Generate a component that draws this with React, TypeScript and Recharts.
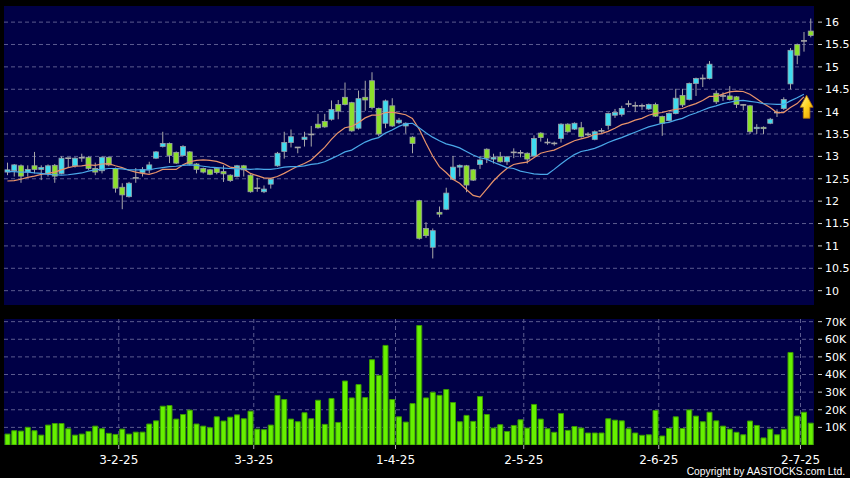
import React from 'react';
import { ComposedChart, Bar, Line, XAxis, YAxis, CartesianGrid, ReferenceDot } from 'recharts';

// ---- data ----
const opens = [
  12.65, 12.68, 12.79, 12.65, 12.79, 12.71, 12.62, 12.80, 12.62, 12.96,
  12.79, 12.97, 12.98, 12.73, 12.68, 12.98, 12.73, 12.31, 12.10, 12.52,
  12.64, 12.70, 12.96, 13.22, 13.29, 13.09, 13.02, 13.10, 12.83, 12.73,
  12.70, 12.73, 12.66, 12.58, 12.55, 12.79, 12.58, 12.29, 12.21, 12.38,
  12.79, 13.11, 13.31, 13.20, 13.38, 13.49, 13.72, 13.78, 13.83, 14.16,
  14.32, 14.20, 13.63, 14.32, 14.69, 14.07, 13.74, 14.13, 13.75, 13.68,
  13.43, 12.01, 11.39, 10.97, 11.75, 11.82, 12.49, 12.76, 12.79, 12.70,
  12.82, 13.16, 12.94, 12.99, 12.88, 13.09, 13.08, 13.07, 13.01, 13.52,
  13.31, 13.29, 13.40, 13.72, 13.61, 13.64, 13.49, 13.38, 13.57, 13.69,
  13.92, 13.94, 14.17, 14.13, 14.13, 14.06, 14.16, 13.89, 13.80, 13.96,
  14.36, 14.27, 14.63, 14.74, 14.74, 14.41, 14.35, 14.35, 14.33, 14.15,
  14.13, 13.62, 13.65, 13.74, 13.98, 14.07, 14.62, 15.50, 15.58, 15.80,
];
const highs = [
  12.86, 12.83, 12.82, 12.80, 13.10, 12.80, 12.82, 12.83, 13.00, 12.97,
  12.98, 13.06, 13.00, 12.86, 13.00, 13.00, 12.75, 12.40, 12.43, 12.74,
  12.76, 12.88, 13.12, 13.55, 13.31, 13.11, 13.25, 13.12, 12.85, 12.75,
  12.72, 12.75, 12.80, 12.60, 12.81, 12.81, 12.60, 12.52, 12.35, 12.52,
  13.10, 13.55, 13.60, 13.21, 13.55, 13.68, 13.95, 13.95, 14.25, 14.26,
  14.65, 14.22, 14.47, 14.69, 14.88, 14.09, 14.27, 14.30, 13.86, 13.76,
  13.45, 12.03, 11.53, 11.39, 11.88, 12.30, 13.01, 12.82, 12.81, 12.72,
  13.01, 13.18, 13.06, 13.10, 13.01, 13.18, 13.14, 13.09, 13.47, 13.54,
  13.40, 13.33, 13.74, 13.74, 13.76, 13.77, 13.54, 13.58, 13.63, 13.98,
  14.06, 14.13, 14.25, 14.22, 14.18, 14.18, 14.20, 13.91, 13.98, 14.51,
  14.51, 14.65, 14.76, 14.83, 15.13, 14.47, 14.43, 14.57, 14.35, 14.17,
  14.15, 13.72, 13.67, 13.86, 14.05, 14.32, 15.42, 15.52, 15.78, 16.08,
];
const lows = [
  12.58, 12.55, 12.41, 12.55, 12.62, 12.47, 12.55, 12.41, 12.60, 12.74,
  12.75, 12.88, 12.70, 12.58, 12.62, 12.78, 12.19, 11.82, 12.08, 12.41,
  12.55, 12.62, 12.94, 13.20, 12.85, 12.83, 13.00, 12.80, 12.62, 12.62,
  12.58, 12.60, 12.43, 12.43, 12.53, 12.55, 12.19, 12.21, 12.18, 12.28,
  12.77, 12.95, 13.20, 13.07, 13.22, 13.22, 13.62, 13.64, 13.80, 13.83,
  14.14, 13.55, 13.60, 14.02, 14.05, 13.45, 13.63, 13.66, 13.72, 13.51,
  13.07, 11.14, 11.18, 10.72, 11.64, 11.80, 12.47, 12.55, 12.20, 12.45,
  12.72, 12.85, 12.84, 12.86, 12.81, 12.96, 12.98, 12.84, 12.99, 13.33,
  13.26, 13.24, 13.31, 13.53, 13.59, 13.42, 13.45, 13.36, 13.53, 13.60,
  13.86, 13.89, 14.10, 14.00, 14.04, 14.04, 13.88, 13.46, 13.78, 13.94,
  14.10, 14.25, 14.35, 14.55, 14.72, 14.17, 14.24, 14.25, 14.08, 14.03,
  13.50, 13.50, 13.50, 13.72, 13.88, 14.04, 14.50, 15.06, 15.34, 15.66,
];
const closes = [
  12.70, 12.81, 12.56, 12.71, 12.71, 12.75, 12.79, 12.56, 12.96, 12.96,
  12.96, 12.97, 12.73, 12.65, 12.98, 12.81, 12.29, 12.14, 12.40, 12.52,
  12.71, 12.81, 13.10, 13.29, 13.02, 12.85, 13.22, 12.83, 12.71, 12.65,
  12.60, 12.64, 12.61, 12.46, 12.79, 12.70, 12.21, 12.29, 12.27, 12.49,
  13.07, 13.31, 13.44, 13.20, 13.43, 13.49, 13.64, 13.66, 14.05, 14.01,
  14.16, 13.57, 14.29, 14.26, 14.09, 13.50, 14.24, 13.68, 13.81, 13.74,
  13.29, 11.17, 11.23, 11.34, 11.71, 12.18, 12.76, 12.80, 12.36, 12.47,
  12.92, 12.96, 12.98, 12.88, 12.99, 13.09, 13.08, 12.94, 13.40, 13.42,
  13.31, 13.29, 13.72, 13.55, 13.74, 13.44, 13.49, 13.55, 13.57, 13.96,
  13.98, 14.07, 14.17, 14.13, 14.13, 14.16, 13.90, 13.74, 13.96, 14.30,
  14.15, 14.63, 14.74, 14.74, 15.06, 14.22, 14.35, 14.27, 14.16, 14.15,
  13.55, 13.65, 13.62, 13.83, 13.98, 14.27, 15.37, 15.26, 15.58, 15.70,
];
const volumesK = [
  6.2, 8.1, 7.9, 10.0, 8.1, 5.6, 11.3, 12.2, 12.2, 9.2,
  5.6, 6.2, 7.7, 10.7, 9.2, 6.6, 6.0, 9.0, 6.2, 7.3,
  7.3, 11.9, 13.7, 22.0, 22.4, 14.7, 17.3, 19.8, 11.9, 10.7,
  9.8, 16.0, 13.6, 15.8, 17.1, 14.9, 19.2, 9.0, 8.7, 11.3,
  28.1, 25.8, 14.7, 13.2, 18.3, 14.9, 25.4, 11.7, 26.4, 12.8,
  36.3, 26.7, 34.3, 26.9, 48.4, 39.5, 56.5, 25.8, 16.0, 13.0,
  23.5, 67.8, 26.7, 29.9, 28.2, 31.5, 24.1, 13.2, 16.8, 13.4,
  27.5, 17.3, 9.6, 11.5, 7.7, 11.1, 14.3, 9.6, 23.0, 14.7,
  9.2, 7.2, 17.9, 8.3, 10.5, 9.6, 6.8, 6.8, 6.8, 14.9,
  14.1, 13.7, 9.2, 6.8, 5.5, 5.8, 19.6, 5.1, 9.4, 16.0,
  9.4, 19.9, 16.4, 13.2, 18.6, 13.7, 10.7, 9.0, 7.2, 5.8,
  13.6, 11.1, 4.0, 9.0, 5.8, 8.9, 52.5, 16.4, 18.6, 12.4,
];
const ma10 = [
  12.45, 12.46, 12.49, 12.53, 12.56, 12.60, 12.62, 12.65, 12.70, 12.75,
  12.78, 12.79, 12.81, 12.80, 12.83, 12.84, 12.79, 12.75, 12.69, 12.65,
  12.62, 12.60, 12.64, 12.71, 12.71, 12.71, 12.81, 12.88, 12.91, 12.92,
  12.91, 12.89, 12.84, 12.76, 12.74, 12.72, 12.62, 12.57, 12.52, 12.51,
  12.55, 12.62, 12.70, 12.78, 12.84, 12.92, 13.06, 13.20, 13.38, 13.53,
  13.64, 13.67, 13.75, 13.86, 13.92, 13.92, 13.98, 13.99, 13.96, 13.93,
  13.85, 13.61, 13.30, 13.01, 12.77, 12.64, 12.49, 12.40, 12.26, 12.13,
  12.09, 12.27, 12.45, 12.60, 12.73, 12.82, 12.85, 12.87, 12.97, 13.07,
  13.11, 13.14, 13.21, 13.28, 13.35, 13.39, 13.43, 13.49, 13.51, 13.56,
  13.63, 13.71, 13.75, 13.81, 13.85, 13.92, 13.96, 13.98, 14.02, 14.05,
  14.07, 14.13, 14.18, 14.25, 14.34, 14.34, 14.39, 14.44, 14.46, 14.45,
  14.39, 14.29, 14.18, 14.09, 13.98, 13.98, 14.09, 14.18, 14.33, null,
];
const ma20 = [
  12.66, 12.66, 12.65, 12.65, 12.63, 12.62, 12.60, 12.59, 12.58, 12.59,
  12.61, 12.63, 12.67, 12.70, 12.71, 12.73, 12.73, 12.72, 12.70, 12.70,
  12.70, 12.70, 12.73, 12.75, 12.77, 12.78, 12.80, 12.81, 12.80, 12.78,
  12.76, 12.75, 12.74, 12.73, 12.72, 12.72, 12.71, 12.72, 12.71, 12.71,
  12.73, 12.76, 12.77, 12.77, 12.79, 12.82, 12.84, 12.88, 12.95, 13.02,
  13.10, 13.14, 13.23, 13.32, 13.38, 13.42, 13.52, 13.59, 13.67, 13.73,
  13.74, 13.64, 13.53, 13.43, 13.35, 13.28, 13.24, 13.19, 13.11, 13.03,
  12.97, 12.94, 12.87, 12.81, 12.75, 12.73, 12.67, 12.64, 12.61, 12.60,
  12.60, 12.71, 12.83, 12.94, 13.04, 13.11, 13.14, 13.18, 13.24, 13.31,
  13.37, 13.42, 13.48, 13.54, 13.60, 13.66, 13.70, 13.74, 13.76, 13.81,
  13.85, 13.92, 13.97, 14.03, 14.09, 14.13, 14.18, 14.21, 14.24, 14.25,
  14.23, 14.21, 14.18, 14.17, 14.16, 14.16, 14.24, 14.31, 14.39, null,
];
// first trading day of each month (candle index) and its label
const monthStartIdx = [17, 37, 58, 77, 97, 118];
const monthLabels = ['3-2-25', '3-3-25', '1-4-25', '2-5-25', '2-6-25', '2-7-25'];
const priceTicks = [10, 10.5, 11, 11.5, 12, 12.5, 13, 13.5, 14, 14.5, 15, 15.5, 16];
const volumeTicks = [10, 20, 30, 40, 50, 60, 70];
const signalArrow = { slot: 118.4, price: 14.11 };

// ---- styles ----
const BG = '#000000';
const PLOT_BG = '#000046';
const GRID = '#5b5b8f';
const CYAN = '#3edcf0';
const GREEN = '#8ce02a';
const EDGE = '#9aa0a8';
const WICK = '#a8a8a8';
const FONT = 'DejaVu Sans';

const data = opens.map((o, i) => ({
  i,
  range: [lows[i], highs[i]],
  open: o,
  high: highs[i],
  low: lows[i],
  close: closes[i],
  vol: volumesK[i],
  ma10: ma10[i],
  ma20: ma20[i],
}));

const gridTicks = monthStartIdx.map((s) => s - 0.5);
const labelFor = (t: number) => {
  const k = gridTicks.indexOf(t);
  return k >= 0 ? monthLabels[k] : '';
};

const Candle = (props: any) => {
  const { x, y, width, height, payload } = props;
  if (!payload || height == null) return null;
  const { open, close, high, low } = payload;
  const cx = x + width / 2;
  const ppu = height / (high - low);
  const yO = y + (high - open) * ppu;
  const yC = y + (high - close) * ppu;
  const top = Math.min(yO, yC);
  const bot = Math.max(yO, yC);
  const up = close > open;
  const down = close < open;
  return (
    <g>
      <line x1={cx} x2={cx} y1={y} y2={y + height} stroke={WICK} strokeWidth={1} />
      {up || down ? (
        <rect x={x} y={top} width={width} height={Math.max(bot - top, 1)} fill={up ? CYAN : GREEN} stroke={EDGE} strokeWidth={0.8} />
      ) : (
        <line x1={x - 0.5} x2={x + width + 0.5} y1={yO} y2={yO} stroke={WICK} strokeWidth={1.6} />
      )}
    </g>
  );
};

const SideTick = (fmt: (v: number) => string) => (props: any) => {
  const { x, y, payload } = props;
  return (
    <g>
      <line x1={x + 4} x2={x + 8} y1={y} y2={y} stroke="#d0d0d0" strokeWidth={1} />
      <text x={x + 11} y={y} dy="0.355em" fill="#ffffff" fontSize={11} fontFamily={FONT} textAnchor="start">
        {fmt(payload.value)}
      </text>
    </g>
  );
};

const Arrow = (props: any) => {
  const { cx, cy } = props;
  const d = `M${cx},${cy - 11.5} L${cx + 6.5},${cy + 0.5} L${cx + 3.3},${cy + 0.5} L${cx + 3.3},${cy + 11.5} L${cx - 3.3},${cy + 11.5} L${cx - 3.3},${cy + 0.5} L${cx - 6.5},${cy + 0.5} Z`;
  return (
    <g>
      <defs>
        <linearGradient id="arrowGrad" x1="0" y1="0" x2="1" y2="1">
          <stop offset="0" stopColor="#fff7a8" />
          <stop offset="0.5" stopColor="#ffd21e" />
          <stop offset="1" stopColor="#e89a00" />
        </linearGradient>
      </defs>
      <path d={d} fill="url(#arrowGrad)" stroke="#b87800" strokeWidth={0.8} />
    </g>
  );
};

export default function App() {
  return (
    <div style={{ position: 'absolute', left: 0, top: 0, width: 850, height: 478, background: BG, overflow: 'hidden' }}>
      <div style={{ position: 'absolute', left: 0, top: 0 }}>
        <ComposedChart width={850} height={310} data={data} margin={{ top: 6, right: 0, bottom: 5, left: 4 }}>
          <CartesianGrid fill={PLOT_BG} fillOpacity={1} stroke={GRID} strokeDasharray="4 3" syncWithTicks />
          <XAxis
            type="number"
            dataKey="i"
            domain={[-0.5, 119.5]}
            ticks={gridTicks}
            interval={0}
            height={0}
            tick={false}
            axisLine={false}
            tickLine={false}
            allowDataOverflow
          />
          <YAxis
            orientation="right"
            width={36}
            domain={[9.68, 16.36]}
            ticks={priceTicks}
            allowDataOverflow
            axisLine={false}
            tickLine={false}
            tickSize={0}
            tickMargin={0}
            interval={0}
            tick={SideTick((v) => String(v))}
          />
          <Bar dataKey="range" barSize={5} shape={Candle} isAnimationActive={false} />
          <Line type="linear" dataKey="ma10" stroke="#e8936a" strokeWidth={1.2} dot={false} isAnimationActive={false} />
          <Line type="linear" dataKey="ma20" stroke="#4aa8e8" strokeWidth={1.2} dot={false} isAnimationActive={false} />
          <ReferenceDot x={signalArrow.slot} y={signalArrow.price} r={1} shape={Arrow} />
        </ComposedChart>
      </div>
      <div style={{ position: 'absolute', left: 0, top: 310 }}>
        <ComposedChart width={850} height={168} data={data} margin={{ top: 9, right: 0, bottom: 0, left: 4 }}>
          <CartesianGrid fill={PLOT_BG} fillOpacity={1} stroke={GRID} strokeDasharray="4 3" syncWithTicks />
          <XAxis
            type="number"
            dataKey="i"
            domain={[-0.5, 119.5]}
            ticks={gridTicks}
            interval={0}
            height={33}
            axisLine={false}
            tickLine={{ stroke: '#b0b0b0' }}
            tickSize={4}
            tickMargin={6}
            tickFormatter={labelFor}
            tick={{ fill: '#ffffff', fontSize: 12, fontFamily: FONT }}
            allowDataOverflow
          />
          <YAxis
            orientation="right"
            width={36}
            domain={[0, 71.5]}
            ticks={volumeTicks}
            allowDataOverflow
            axisLine={false}
            tickLine={false}
            tickSize={0}
            tickMargin={0}
            interval={0}
            tick={SideTick((v) => `${v}K`)}
          />
          <Bar dataKey="vol" barSize={5} fill="#66f000" stroke="#3a9a00" strokeWidth={1} isAnimationActive={false} />
        </ComposedChart>
      </div>
      <svg style={{ position: 'absolute', left: 0, top: 0 }} width={850} height={478} pointerEvents="none">
        <text x={845} y={475} textAnchor="end" fill="#ffffff" fontSize={10.3} fontFamily="Liberation Sans">
          Copyright by AASTOCKS.com Ltd.
        </text>
      </svg>
    </div>
  );
}
